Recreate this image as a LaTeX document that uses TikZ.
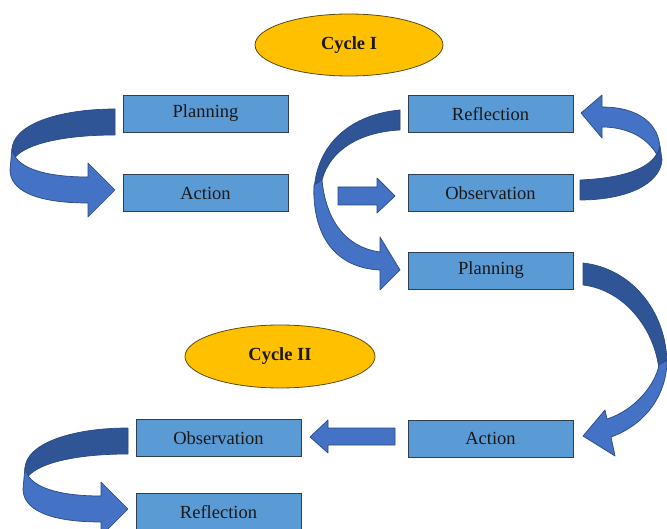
\documentclass[tikz,border=0pt]{standalone}
\usepackage{fontspec}
\setmainfont{Liberation Serif}
\usetikzlibrary{shapes.geometric}
\definecolor{boxfill}{HTML}{5B9BD5}
\definecolor{boxline}{HTML}{2E3F52}
\definecolor{cyclefill}{HTML}{FFC000}
\definecolor{cycleline}{HTML}{5C4A12}
\definecolor{arrlight}{HTML}{4472C4}
\definecolor{arrdark}{HTML}{2F5597}
\definecolor{arrline}{HTML}{2A4A85}
\begin{document}
\begin{tikzpicture}[x=1pt,y=-1pt,
  stepbox/.style={draw=boxline,line width=0.9pt,fill=boxfill,minimum width=165pt,minimum height=37pt,inner sep=0pt,font=\fontsize{18.5}{21}\selectfont,text=black!90},
  cyclebox/.style={ellipse,draw=cycleline,line width=0.8pt,fill=cyclefill,inner sep=0pt,font=\bfseries\fontsize{18.5}{21}\selectfont,text=black!90},
  lightpart/.style={fill=arrlight,draw=arrline,line width=0.7pt,line join=round},
  darkpart/.style={fill=arrdark,draw=arrline,line width=0.7pt,line join=round}]
\useasboundingbox (0,0) rectangle (667,529);
\fill[white] (0,0) rectangle (667,529);

% nodes
\node[cyclebox,minimum width=188pt,minimum height=62pt] (c1) at (349,45) {Cycle I};
\node[cyclebox,minimum width=190pt,minimum height=63pt] (c2) at (280,356.5) {Cycle II};
\node[stepbox] (plan1) at (205.5,113.5) {Planning};
\node[stepbox] (act1) at (205.5,193) {Action};
\node[stepbox] (refl1) at (490.5,114) {Reflection};
\node[stepbox] (obs1) at (490.5,193) {Observation};
\node[stepbox] (plan2) at (491,270.5) {Planning};
\node[stepbox] (act2) at (490.5,438.5) {Action};
\node[stepbox] (obs2) at (218.5,438) {Observation};
\node[stepbox] (refl2) at (218.5,512) {Reflection};

% arrow: Planning -> Action (cycle I, left)
\path[darkpart] (115,109) .. controls (58,109) and (12,125) .. (12,150) -- (13,160) .. controls (22,145) and (60,135) .. (115,135) -- cycle;
\path[lightpart] (12,148) .. controls (14,168) and (45,177) .. (88,177) -- (88,163) -- (115,190) -- (88,217) -- (88,203) .. controls (35,203) and (10,190) .. (10,170) -- cycle;

% arrow: Action -> Observation (straight)
\path[lightpart] (338,187) -- (377,187) -- (377,178) -- (395,196) -- (377,213) -- (377,205) -- (338,205) -- cycle;

% arrow: Observation -> Reflection (right, curving up)
\path[lightpart] (602,107) .. controls (640,107) and (660,125) .. (660,150) -- (658,157) .. controls (650,140) and (630,127) .. (602,127) -- (602,138) -- (581,113) -- (602,95) -- cycle;
\path[darkpart] (580,180) .. controls (625,178) and (655,168) .. (660,146) -- (662,160) .. controls (660,185) and (625,200) .. (580,200) -- cycle;

% arrow: Reflection -> Planning (big left curve)
\path[darkpart] (400,110) .. controls (345,115) and (314,150) .. (314,195) -- (322,180) .. controls (330,150) and (360,132) .. (400,130) -- cycle;
\path[lightpart] (322,180) .. controls (326,220) and (345,247) .. (380,252) -- (380,237) -- (400,270) -- (380,290) -- (380,270) .. controls (335,268) and (312,235) .. (314,185) -- cycle;

% arrow: Planning -> Action (right big curve)
\path[darkpart] (583,263) .. controls (630,268) and (667,310) .. (667,365) -- (659,370) .. controls (655,330) and (625,290) .. (583,285) -- cycle;
\path[lightpart] (667,360) .. controls (667,395) and (645,425) .. (611,437) -- (615,456) -- (583,436) -- (605,410) -- (607,419) .. controls (635,410) and (655,385) .. (659,365) -- cycle;

% arrow: Action -> Observation (straight, left)
\path[lightpart] (395,428) -- (328,428) -- (328,420) -- (310,437) -- (328,453) -- (328,445) -- (395,445) -- cycle;

% arrow: Observation -> Reflection (cycle II, left)
\begin{scope}[shift={(13,319)}]
\path[darkpart] (115,109) .. controls (58,109) and (12,125) .. (12,150) -- (13,160) .. controls (22,145) and (60,135) .. (115,135) -- cycle;
\path[lightpart] (12,148) .. controls (14,168) and (45,177) .. (88,177) -- (88,163) -- (115,190) -- (88,217) -- (88,203) .. controls (35,203) and (10,190) .. (10,170) -- cycle;
\end{scope}
\end{tikzpicture}
\end{document}
